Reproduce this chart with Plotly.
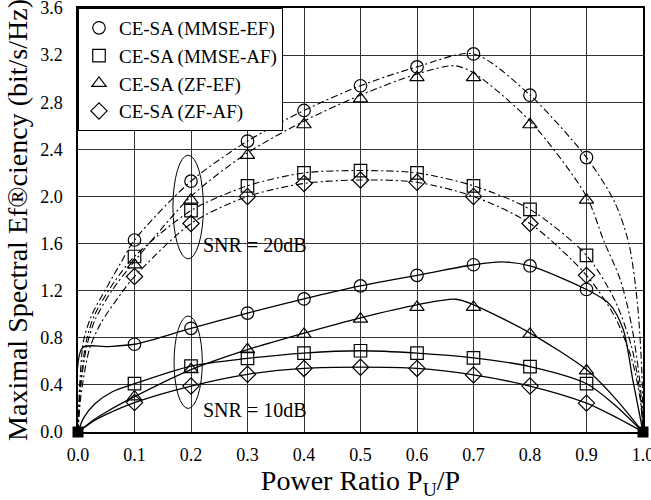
import plotly.graph_objects as go

# ---------------- data ----------------
x_marks = [0.1, 0.2, 0.3, 0.4, 0.5, 0.6, 0.7, 0.8, 0.9]

# SNR = 20 dB (marker values)
mmse_ef_20 = [1.63, 2.13, 2.47, 2.73, 2.94, 3.10, 3.21, 2.86, 2.33]
mmse_af_20 = [1.49, 1.88, 2.09, 2.20, 2.22, 2.20, 2.09, 1.89, 1.50]
zf_ef_20 = [1.42, 1.97, 2.35, 2.61, 2.83, 3.01, 3.01, 2.61, 1.97]
zf_af_20 = [1.32, 1.77, 2.00, 2.11, 2.14, 2.12, 2.00, 1.77, 1.33]

# SNR = 10 dB (marker values)
mmse_ef_10 = [0.745, 0.88, 1.01, 1.13, 1.24, 1.33, 1.42, 1.41, 1.21]
mmse_af_10 = [0.41, 0.56, 0.625, 0.67, 0.69, 0.67, 0.63, 0.555, 0.41]
zf_ef_10 = [0.30, 0.53, 0.70, 0.83, 0.96, 1.06, 1.06, 0.83, 0.52]
zf_af_10 = [0.25, 0.39, 0.49, 0.54, 0.55, 0.54, 0.485, 0.39, 0.245]

# Curve points (continuous lines)
c_mmse_ef_20_x = [0, 0.003, 0.01, 0.025, 0.05, 0.075, 0.1, 0.2, 0.3, 0.4, 0.5, 0.6, 0.7, 0.8, 0.9, 0.95, 0.975, 0.99, 0.998, 1.0]
c_mmse_ef_20_y = [0, 0.40, 0.78, 1.00, 1.22, 1.43, 1.63, 2.13, 2.47, 2.73, 2.94, 3.10, 3.21, 2.86, 2.33, 1.95, 1.60, 1.10, 0.50, 0]
c_zf_ef_20_x = [0, 0.004, 0.015, 0.03, 0.06, 0.1, 0.2, 0.3, 0.4, 0.5, 0.6, 0.667, 0.7, 0.8, 0.9, 0.93, 0.96, 0.98, 0.995, 1.0]
c_zf_ef_20_y = [0, 0.35, 0.72, 0.95, 1.20, 1.45, 2.00, 2.37, 2.64, 2.86, 3.04, 3.11, 3.05, 2.64, 2.00, 1.63, 1.29, 0.90, 0.40, 0]
c_mmse_af_20_x = [0, 0.004, 0.015, 0.03, 0.065, 0.1, 0.2, 0.3, 0.4, 0.5, 0.6, 0.7, 0.8, 0.9, 0.95, 0.98, 0.995, 1.0]
c_mmse_af_20_y = [0, 0.38, 0.78, 1.00, 1.28, 1.49, 1.88, 2.09, 2.20, 2.22, 2.20, 2.09, 1.89, 1.50, 1.12, 0.72, 0.32, 0]
c_zf_af_20_x = [0, 0.005, 0.02, 0.04, 0.08, 0.1, 0.2, 0.3, 0.4, 0.5, 0.6, 0.7, 0.8, 0.9, 0.95, 0.98, 0.995, 1.0]
c_zf_af_20_y = [0, 0.30, 0.70, 0.92, 1.20, 1.32, 1.77, 2.00, 2.11, 2.14, 2.12, 2.00, 1.77, 1.33, 0.98, 0.62, 0.28, 0]

c_mmse_ef_10_x = [0, 0.008, 0.05, 0.1, 0.2, 0.3, 0.4, 0.5, 0.6, 0.7, 0.75, 0.8, 0.9, 0.94, 0.965, 0.982, 1.0]
c_mmse_ef_10_y = [0, 0.715, 0.725, 0.745, 0.88, 1.01, 1.13, 1.24, 1.33, 1.42, 1.445, 1.41, 1.21, 1.09, 0.87, 0.44, 0]
c_zf_ef_10_x = [0, 0.03, 0.05, 0.1, 0.2, 0.3, 0.4, 0.5, 0.6, 0.669, 0.7, 0.8, 0.9, 0.95, 1.0]
c_zf_ef_10_y = [0, 0.11, 0.17, 0.30, 0.53, 0.70, 0.84, 0.97, 1.08, 1.127, 1.08, 0.84, 0.53, 0.29, 0]
c_mmse_af_10_x = [0, 0.01, 0.03, 0.06, 0.1, 0.2, 0.3, 0.4, 0.5, 0.6, 0.7, 0.8, 0.9, 0.95, 1.0]
c_mmse_af_10_y = [0, 0.12, 0.24, 0.34, 0.41, 0.56, 0.625, 0.67, 0.69, 0.67, 0.63, 0.555, 0.41, 0.23, 0]
c_zf_af_10_x = [0, 0.03, 0.05, 0.1, 0.2, 0.3, 0.4, 0.5, 0.6, 0.7, 0.8, 0.9, 0.95, 1.0]
c_zf_af_10_y = [0, 0.10, 0.15, 0.25, 0.39, 0.49, 0.54, 0.55, 0.54, 0.485, 0.39, 0.245, 0.13, 0]

end_x = [0.0, 1.0]
end_y = [0.0, 0.0]

legend_names = ["CE-SA (MMSE-EF)", "CE-SA (MMSE-AF)", "CE-SA (ZF-EF)", "CE-SA (ZF-AF)"]
symbols = ["circle-open", "square-open", "triangle-up-open", "diamond-open"]

x_ticks = [0.0, 0.1, 0.2, 0.3, 0.4, 0.5, 0.6, 0.7, 0.8, 0.9, 1.0]
y_ticks = [0.0, 0.4, 0.8, 1.2, 1.6, 2.0, 2.4, 2.8, 3.2, 3.6]

# ---------------- figure ----------------
FONT = "Liberation Serif, Times New Roman, serif"
DASH20 = "7px,3px,2px,3px"

fig = go.Figure()

curves20 = [(c_mmse_ef_20_x, c_mmse_ef_20_y), (c_mmse_af_20_x, c_mmse_af_20_y),
            (c_zf_ef_20_x, c_zf_ef_20_y), (c_zf_af_20_x, c_zf_af_20_y)]
curves10 = [(c_mmse_ef_10_x, c_mmse_ef_10_y), (c_mmse_af_10_x, c_mmse_af_10_y),
            (c_zf_ef_10_x, c_zf_ef_10_y), (c_zf_af_10_x, c_zf_af_10_y)]
for cx, cy in curves20:
    fig.add_trace(go.Scatter(x=cx, y=cy, mode="lines", showlegend=False, hoverinfo="skip",
                             line=dict(color="black", width=1.1, dash=DASH20, shape="spline", smoothing=0.8)))
for cx, cy in curves10:
    fig.add_trace(go.Scatter(x=cx, y=cy, mode="lines", showlegend=False, hoverinfo="skip",
                             line=dict(color="black", width=1.3, shape="spline", smoothing=0.8)))

marks20 = [mmse_ef_20, mmse_af_20, zf_ef_20, zf_af_20]
marks10 = [mmse_ef_10, mmse_af_10, zf_ef_10, zf_af_10]
for i in range(4):
    fig.add_trace(go.Scatter(x=x_marks, y=marks20[i], mode="markers", name=legend_names[i],
                             legendgroup=legend_names[i], showlegend=True,
                             marker=dict(symbol=symbols[i], size=12.5, color="black", line=dict(width=1.2))))
    fig.add_trace(go.Scatter(x=x_marks, y=marks10[i], mode="markers", name=legend_names[i],
                             legendgroup=legend_names[i], showlegend=False,
                             marker=dict(symbol=symbols[i], size=12.5, color="black", line=dict(width=1.2))))

fig.add_trace(go.Scatter(x=end_x, y=end_y, mode="markers", showlegend=False, cliponaxis=False,
                         marker=dict(symbol="square", size=11, color="black")))

# ellipses marking the SNR groups
fig.add_shape(type="circle", xref="x", yref="y", x0=0.168, x1=0.222, y0=1.47, y1=2.35,
              line=dict(color="black", width=1))
fig.add_shape(type="circle", xref="x", yref="y", x0=0.170, x1=0.220, y0=0.20, y1=0.985,
              line=dict(color="black", width=1))

fig.add_annotation(x=0.218, y=1.59, text="SNR = 20dB", showarrow=False, xanchor="left",
                   font=dict(family=FONT, size=20, color="black"))
fig.add_annotation(x=0.218, y=0.19, text="SNR = 10dB", showarrow=False, xanchor="left",
                   font=dict(family=FONT, size=20, color="black"))

fig.update_layout(
    width=651, height=500,
    margin=dict(l=78, r=8, t=8, b=68),
    paper_bgcolor="white", plot_bgcolor="white",
    font=dict(family=FONT, color="black"),
    showlegend=True,
    legend=dict(x=0, y=1, xanchor="left", yanchor="top", bgcolor="white",
                bordercolor="black", borderwidth=1, font=dict(family=FONT, size=19),
                tracegroupgap=0, itemwidth=30),
)
fig.update_xaxes(range=[0, 1.0], tickvals=x_ticks, ticktext=[f"{v:.1f}" for v in x_ticks],
                 showgrid=True, gridcolor="#333333", gridwidth=1, zeroline=False,
                 showline=True, linecolor="black", linewidth=1.5, mirror=True, automargin=False,
                 ticks="", tickfont=dict(size=18), ticklabelstandoff=6, ticklabeloverflow="allow",
                 title=dict(text="Power Ratio P<sub>U</sub>/P", font=dict(size=28), standoff=4))
fig.update_yaxes(range=[0, 3.6], tickvals=y_ticks, ticktext=[f"{v:.1f}" for v in y_ticks],
                 showgrid=True, gridcolor="#333333", gridwidth=1, zeroline=False,
                 showline=True, linecolor="black", linewidth=1.5, mirror=True, automargin=False,
                 ticks="", tickfont=dict(size=18), ticklabelstandoff=10, ticklabeloverflow="allow",
                 title=dict(text="Maximal Spectral Ef®ciency (bit/s/Hz)", font=dict(size=28), standoff=4))

fig.write_html("out.html")
